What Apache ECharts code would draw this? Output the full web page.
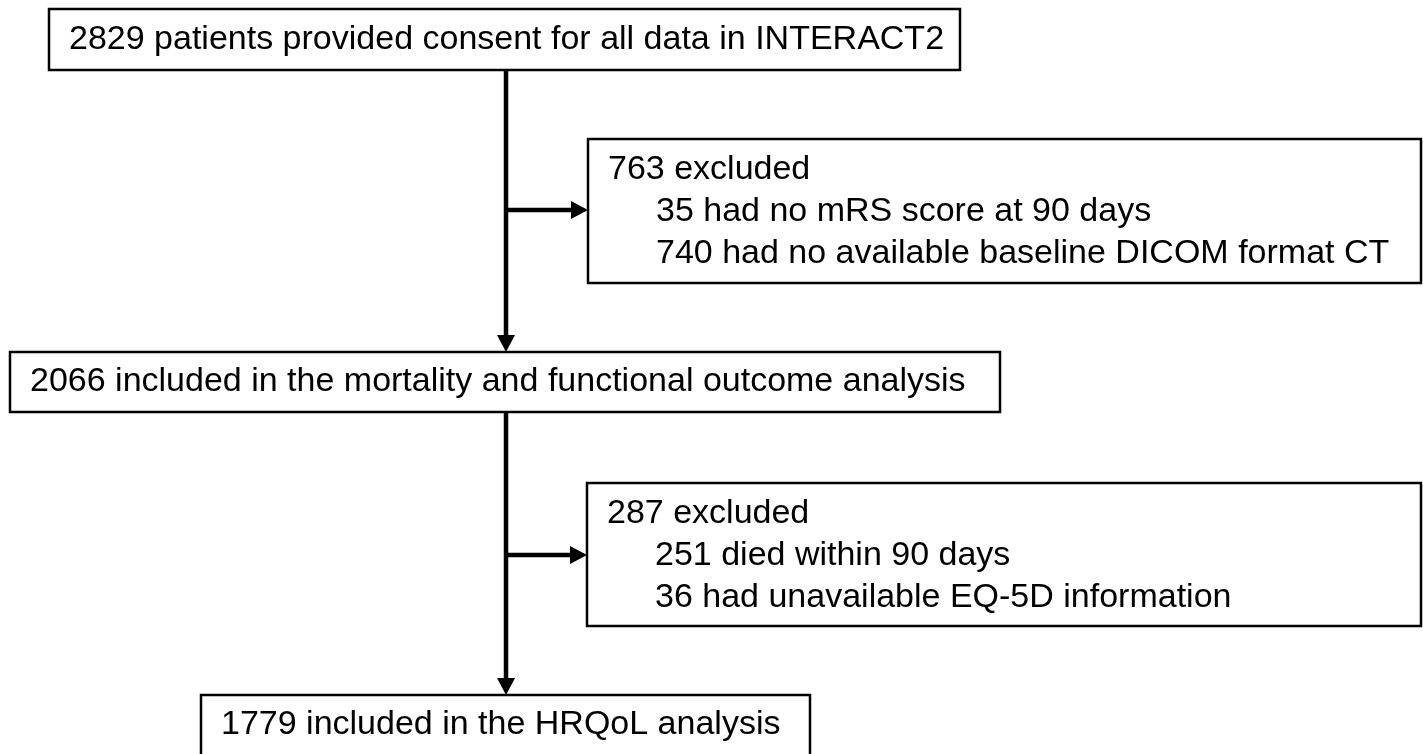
<!DOCTYPE html>
<html>
<head>
<meta charset="utf-8">
<script src="https://cdn.jsdelivr.net/npm/echarts@6/dist/echarts.min.js"></script>
<style>
  html, body { margin: 0; padding: 0; background: #fff; }
  #chart { width: 1423px; height: 754px; }
</style>
</head>
<body>
<div id="chart"></div>
<script>
// flow steps, text of each box
const boxText = [
  ['2829 patients provided consent for all data in INTERACT2'],
  ['763 excluded', '35 had no mRS score at 90 days', '740 had no available baseline DICOM format CT'],
  ['2066 included in the mortality and functional outcome analysis'],
  ['287 excluded', '251 died within 90 days', '36 had unavailable EQ-5D information'],
  ['1779 included in the HRQoL analysis']
]

// layout (page coords): [x0, y0, x1, y1]
const boxFrames = [
  [49, 9, 960, 70],
  [588, 139, 1421, 283],
  [10, 352, 1000, 412],
  [587, 483, 1421, 626],
  [201, 695, 810, 775]
]
// arrows: [xFrom, yFrom, xTo, yTo]
const arrows = [
  [506, 70, 506, 352],
  [506, 210, 588, 210],
  [506, 412, 506, 695],
  [506, 555, 587, 555]
]

const FONT = '34px "Liberation Sans", Arial, sans-serif'
const chart = echarts.init(document.getElementById('chart'))

function renderBox(params, api) {
  const i = params.dataIndex
  const f = boxFrames[i]
  const p0 = api.coord([f[0], f[1]])
  const p1 = api.coord([f[2], f[3]])
  const lines = boxText[i]
  const children = [{
    type: 'rect',
    shape: { x: p0[0], y: p0[1], width: p1[0] - p0[0], height: p1[1] - p0[1] },
    style: { fill: '#fff', stroke: '#000', lineWidth: 2.5 }
  }]
  const single = lines.length === 1
  lines.forEach(function(t, k) {
    const y = single ? (i === 4 ? p0[1] + 30 : (p0[1] + p1[1]) / 2) : p0[1] + 31 + k * 42
    children.push({
      type: 'text',
      x: p0[0] + (k === 0 ? 20 : 68),
      y: y,
      style: { text: t, font: FONT, fill: '#000', textVerticalAlign: 'middle', textAlign: 'left' }
    })
  })
  return { type: 'group', children: children }
}

function renderArrow(params, api) {
  const a = arrows[params.dataIndex]
  const s = api.coord([a[0], a[1]])
  const e = api.coord([a[2], a[3]])
  const dx = e[0] - s[0], dy = e[1] - s[1]
  const len = Math.sqrt(dx * dx + dy * dy)
  const ux = dx / len, uy = dy / len
  const headLen = 17, headW = 9
  const bx = e[0] - ux * headLen, by = e[1] - uy * headLen
  return {
    type: 'group',
    children: [{
      type: 'line',
      shape: { x1: s[0], y1: s[1], x2: bx + ux, y2: by + uy },
      style: { stroke: '#000', lineWidth: 4.5 }
    }, {
      type: 'polygon',
      shape: { points: [[e[0], e[1]], [bx - uy * headW, by + ux * headW], [bx + uy * headW, by - ux * headW]] },
      style: { fill: '#000' }
    }]
  }
}

chart.setOption({
  animation: false,
  grid: { left: 0, right: 0, top: 0, bottom: 0 },
  xAxis: { type: 'value', min: 0, max: 1423, show: false },
  yAxis: { type: 'value', min: 0, max: 754, inverse: true, show: false },
  series: [{
    type: 'custom',
    renderItem: renderArrow,
    data: arrows,
    z: 1
  }, {
    type: 'custom',
    renderItem: renderBox,
    data: boxFrames.map(function(f, i) { return [f[0], f[1], i] }),
    z: 2
  }]
})
</script>
</body>
</html>
